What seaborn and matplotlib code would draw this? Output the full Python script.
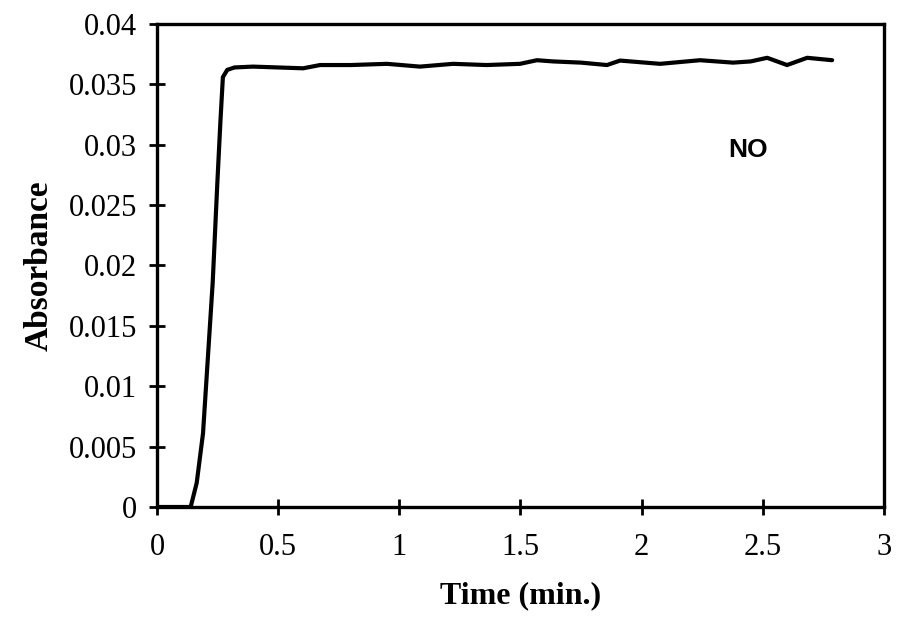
import matplotlib
matplotlib.use("Agg")
import matplotlib.pyplot as plt
import seaborn as sns
import pandas as pd

# Data
time_min = [0.0, 0.139, 0.164, 0.19, 0.23, 0.249, 0.262, 0.272, 0.29, 0.32,
            0.396, 0.50, 0.603, 0.673, 0.80, 0.949, 1.085, 1.222, 1.36, 1.498,
            1.568, 1.634, 1.75, 1.857, 1.911, 2.076, 2.241, 2.377, 2.45, 2.518,
            2.600, 2.683, 2.786]
absorbance = [0.0, 0.0, 0.0020, 0.0061, 0.0186, 0.0268, 0.0320, 0.0356, 0.0362, 0.0364,
              0.03647, 0.0364, 0.03633, 0.0366, 0.0366, 0.0367, 0.03647, 0.0367, 0.0366, 0.0367,
              0.0370, 0.0369, 0.0368, 0.0366, 0.03697, 0.0367, 0.0370, 0.0368, 0.0369, 0.0372,
              0.0366, 0.0372, 0.0370]
x_ticks = [0, 0.5, 1, 1.5, 2, 2.5, 3]
x_tick_labels = ["0", "0.5", "1", "1.5", "2", "2.5", "3"]
y_ticks = [0, 0.005, 0.01, 0.015, 0.02, 0.025, 0.03, 0.035, 0.04]
y_tick_labels = ["0", "0.005", "0.01", "0.015", "0.02", "0.025", "0.03", "0.035", "0.04"]
series_label = "NO"

df = pd.DataFrame({"Time": time_min, "Absorbance": absorbance})

sns.set_style("ticks")
plt.rcParams["font.family"] = ["Liberation Serif", "DejaVu Serif"]
plt.rcParams["text.color"] = "black"
plt.rcParams["axes.labelcolor"] = "black"

fig = plt.figure(figsize=(8.98, 6.23), dpi=100)
ax = fig.add_axes([0.1748, 0.1862, 0.8096, 0.7753])

sns.lineplot(data=df, x="Time", y="Absorbance", ax=ax, color="black",
             linewidth=3.0, estimator=None, sort=False)

ax.set_xlim(0, 3)
ax.set_ylim(0, 0.04)
ax.set_xticks(x_ticks)
ax.set_xticklabels(x_tick_labels)
ax.set_yticks(y_ticks)
ax.set_yticklabels(y_tick_labels)

for s in ax.spines.values():
    s.set_visible(True)
    s.set_linewidth(2.4)
    s.set_color("black")

ax.tick_params(axis="both", direction="inout", length=11, width=2, colors="black",
               labelcolor="black", labelsize=22, pad=9)
ax.tick_params(axis="x", pad=13)

ax.set_xlabel("Time (min.)", fontsize=23, fontweight="bold", labelpad=14, color="black")
ax.set_ylabel("Absorbance", fontsize=24, fontweight="bold", labelpad=10, color="black")

ax.text(2.44, 0.0296, series_label, fontsize=19, fontweight="bold", color="black",
        family=["Liberation Sans", "DejaVu Sans"], ha="center", va="center")

fig.savefig("out.png", dpi=100)
